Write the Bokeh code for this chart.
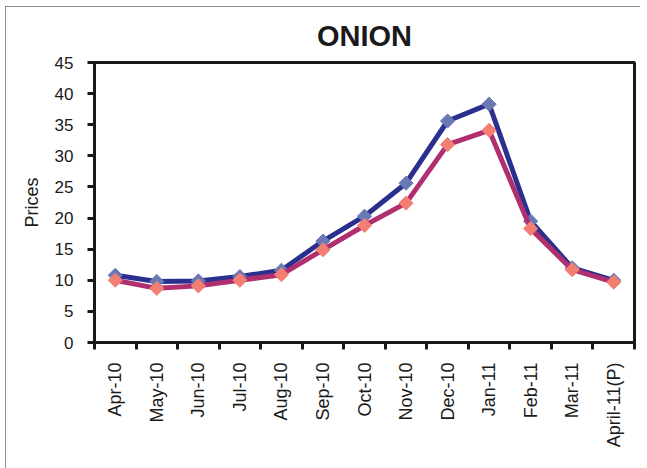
import math
from bokeh.plotting import figure
from bokeh.models import Range1d, FixedTicker
from bokeh.embed import file_html
from bokeh.resources import INLINE

# ---- data ----
months = ["Apr-10", "May-10", "Jun-10", "Jul-10", "Aug-10", "Sep-10", "Oct-10",
          "Nov-10", "Dec-10", "Jan-11", "Feb-11", "Mar-11", "April-11(P)"]
series_blue = [10.8, 9.8, 9.9, 10.6, 11.6, 16.3, 20.3, 25.6, 35.6, 38.3, 19.5, 12.0, 10.0]
series_pink = [10.0, 8.7, 9.1, 10.0, 10.9, 14.9, 18.8, 22.4, 31.8, 34.1, 18.3, 11.7, 9.7]
y_ticks = [0, 5, 10, 15, 20, 25, 30, 35, 40, 45]

FONT = "Liberation Sans"

xs = [i + 0.5 for i in range(len(months))]

p = figure(width=635, height=462, output_backend="svg", toolbar_location=None,
           x_range=Range1d(0, len(months)), y_range=Range1d(0, 45),
           min_border_left=89, min_border_right=6, min_border_top=52, min_border_bottom=126)

p.styles = {"outline": "1px solid #6e6e6e", "outline-offset": "-1px",
            "margin-left": "5px", "margin-top": "6px"}

p.title.text = "ONION"
p.title.text_font = FONT
p.title.text_font_size = "29px"
p.title.text_font_style = "bold"
p.title.text_color = "#1a1a1a"
p.title.align = "center"
p.title.standoff = 22

p.xgrid.visible = False
p.ygrid.visible = False
p.outline_line_color = "#1a1a1a"
p.outline_line_width = 3
p.background_fill_color = "white"
p.border_fill_color = "white"

# y axis
ya = p.yaxis[0]
ya.ticker = FixedTicker(ticks=y_ticks)
ya.axis_line_width = 3
ya.axis_line_color = "#1a1a1a"
ya.major_tick_line_width = 3
ya.major_tick_line_color = "#1a1a1a"
ya.major_tick_out = 7
ya.major_tick_in = 0
ya.minor_tick_line_color = None
ya.major_label_text_font = FONT
ya.major_label_text_font_size = "17px"
ya.major_label_text_color = "#1a1a1a"
ya.major_label_standoff = 14
ya.axis_label = "Prices"
ya.axis_label_text_font = FONT
ya.axis_label_text_font_size = "18px"
ya.axis_label_text_font_style = "normal"
ya.axis_label_text_color = "#1a1a1a"
ya.axis_label_standoff = 10

# x axis: labels at category centres, ticks at category boundaries
xa = p.xaxis[0]
xa.ticker = FixedTicker(ticks=xs, minor_ticks=list(range(len(months) + 1)))
xa.major_label_overrides = {x: m for x, m in zip(xs, months)}
xa.major_label_orientation = math.pi / 2
xa.axis_line_width = 3
xa.axis_line_color = "#1a1a1a"
xa.major_tick_line_color = None
xa.major_tick_out = 0
xa.major_tick_in = 0
xa.minor_tick_line_color = "#1a1a1a"
xa.minor_tick_line_width = 3
xa.minor_tick_out = 7
xa.minor_tick_in = 0
xa.major_label_text_font = FONT
xa.major_label_text_font_size = "18px"
xa.major_label_text_color = "#1a1a1a"
xa.major_label_standoff = 13

# series
p.line(xs, series_blue, line_color="#2b2f8e", line_width=5)
p.scatter(xs, series_blue, marker="square", angle=math.pi / 4, size=10,
          fill_color="#6a79b4", line_color="#6a79b4")
p.line(xs, series_pink, line_color="#b0306f", line_width=5)
p.scatter(xs, series_pink, marker="square", angle=math.pi / 4, size=10,
          fill_color="#f37f73", line_color="#f37f73")

open("out.html", "w").write(file_html(p, INLINE))
